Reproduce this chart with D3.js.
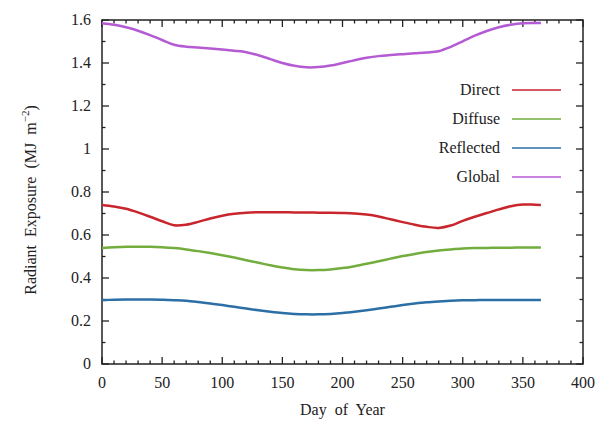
<!DOCTYPE html>
<html>
<head>
<meta charset="utf-8">
<script src="https://cdn.jsdelivr.net/npm/d3@7"></script>
<style>
  body { margin: 0; background: #fff; }
  svg text { font-family: "Liberation Serif", "Times New Roman", Times, "DejaVu Serif", serif; fill: #222; }
</style>
</head>
<body>
<svg id="chart" width="608" height="421"></svg>
<script>
// values
const days      = [0, 10, 20, 30, 40, 50, 60, 70, 80, 90, 100, 110, 120, 130, 140, 150, 160, 170, 180, 190, 200, 210, 220, 230, 240, 250, 260, 270, 280, 290, 300, 310, 320, 330, 340, 350, 360, 365];
const direct    = [0.740, 0.733, 0.722, 0.705, 0.685, 0.664, 0.645, 0.648, 0.661, 0.677, 0.690, 0.699, 0.704, 0.706, 0.706, 0.706, 0.705, 0.705, 0.704, 0.703, 0.702, 0.700, 0.695, 0.686, 0.673, 0.660, 0.648, 0.638, 0.633, 0.644, 0.666, 0.685, 0.702, 0.719, 0.734, 0.742, 0.741, 0.740];
const diffuse   = [0.540, 0.543, 0.545, 0.545, 0.545, 0.543, 0.539, 0.533, 0.525, 0.516, 0.506, 0.495, 0.483, 0.471, 0.459, 0.449, 0.441, 0.437, 0.437, 0.440, 0.446, 0.455, 0.466, 0.478, 0.490, 0.502, 0.512, 0.521, 0.528, 0.533, 0.537, 0.539, 0.540, 0.541, 0.541, 0.542, 0.542, 0.542];
const reflected = [0.297, 0.299, 0.300, 0.300, 0.300, 0.299, 0.297, 0.294, 0.288, 0.281, 0.274, 0.266, 0.258, 0.250, 0.243, 0.237, 0.233, 0.231, 0.231, 0.233, 0.237, 0.243, 0.250, 0.258, 0.266, 0.274, 0.281, 0.287, 0.291, 0.294, 0.296, 0.297, 0.298, 0.298, 0.298, 0.298, 0.298, 0.298];
const global    = [1.585, 1.578, 1.566, 1.550, 1.530, 1.507, 1.485, 1.476, 1.472, 1.468, 1.463, 1.457, 1.450, 1.436, 1.418, 1.400, 1.387, 1.380, 1.381, 1.388, 1.400, 1.413, 1.424, 1.432, 1.437, 1.441, 1.445, 1.449, 1.455, 1.475, 1.501, 1.527, 1.549, 1.566, 1.578, 1.585, 1.586, 1.586];

const seriesNames  = ["Direct", "Diffuse", "Reflected", "Global"];
const seriesValues = [direct, diffuse, reflected, global];
const seriesColors = ["#c9252d", "#72ad3e", "#2c6fa6", "#b45ad2"];

const xTicks = [0, 50, 100, 150, 200, 250, 300, 350, 400];
const yTicks = [0, 0.2, 0.4, 0.6, 0.8, 1, 1.2, 1.4, 1.6];

const svg = d3.select("#chart");
const plotLeft = 102, plotRight = 583, plotTop = 20, plotBottom = 364;

const x = d3.scaleLinear().domain([0, 400]).range([plotLeft, plotRight]);
const y = d3.scaleLinear().domain([0, 1.6]).range([plotBottom, plotTop]);

// frame
svg.append("rect")
    .attr("x", plotLeft).attr("y", plotTop)
    .attr("width", plotRight - plotLeft).attr("height", plotBottom - plotTop)
    .attr("fill", "none").attr("stroke", "#222").attr("stroke-width", 1.5);

// inward ticks on all four sides
const minorX = d3.range(0, 401, 10);
const minorY = d3.range(0, 16.1, 1).map(d => d / 10);
const tickGroup = svg.append("g").attr("stroke", "#222").attr("stroke-width", 1.3);

minorX.forEach(v => {
    const len = v % 50 === 0 ? 7 : 3.5;
    tickGroup.append("line").attr("x1", x(v)).attr("x2", x(v)).attr("y1", plotBottom).attr("y2", plotBottom - len);
    tickGroup.append("line").attr("x1", x(v)).attr("x2", x(v)).attr("y1", plotTop).attr("y2", plotTop + len);
});
minorY.forEach((v, i) => {
    const len = i % 2 === 0 ? 7 : 3.5;
    tickGroup.append("line").attr("y1", y(v)).attr("y2", y(v)).attr("x1", plotLeft).attr("x2", plotLeft + len);
    tickGroup.append("line").attr("y1", y(v)).attr("y2", y(v)).attr("x1", plotRight).attr("x2", plotRight - len);
});

// tick labels
svg.append("g").selectAll("text").data(xTicks).enter().append("text")
    .attr("x", d => x(d)).attr("y", plotBottom + 24)
    .attr("text-anchor", "middle").attr("font-size", 16)
    .text(d => d);

svg.append("g").selectAll("text").data(yTicks).enter().append("text")
    .attr("x", plotLeft - 11).attr("y", d => y(d) + 5)
    .attr("text-anchor", "end").attr("font-size", 16)
    .text(d => d);

// axis titles
svg.append("text")
    .attr("x", (plotLeft + plotRight) / 2).attr("y", 415)
    .attr("text-anchor", "middle").attr("font-size", 16)
    .attr("word-spacing", 4)
    .text("Day of Year");

const yTitle = svg.append("text")
    .attr("transform", "translate(36,200) rotate(-90)")
    .attr("text-anchor", "middle").attr("font-size", 16)
    .attr("word-spacing", 4);
yTitle.append("tspan").text("Radiant Exposure (MJ m");
yTitle.append("tspan").attr("dy", -7).attr("font-size", 11).text("\u22122");
yTitle.append("tspan").attr("dy", 7).text(")");

// lines
const line = d3.line()
    .x((d, i) => x(days[i]))
    .y(d => y(d))
    .curve(d3.curveCatmullRom.alpha(0.5));

seriesValues.forEach((vals, i) => {
    svg.append("path")
        .attr("d", line(vals))
        .attr("fill", "none")
        .attr("stroke", seriesColors[i])
        .attr("stroke-width", 2.5);
});

// legend
const legend = svg.append("g");
seriesNames.forEach((name, i) => {
    const ly = 90 + i * 29;
    legend.append("text")
        .attr("x", 500).attr("y", ly + 5)
        .attr("text-anchor", "end").attr("font-size", 16)
        .text(name);
    legend.append("line")
        .attr("x1", 512).attr("x2", 561)
        .attr("y1", ly).attr("y2", ly)
        .attr("stroke", seriesColors[i]).attr("stroke-width", 1.5);
});
</script>
</body>
</html>
